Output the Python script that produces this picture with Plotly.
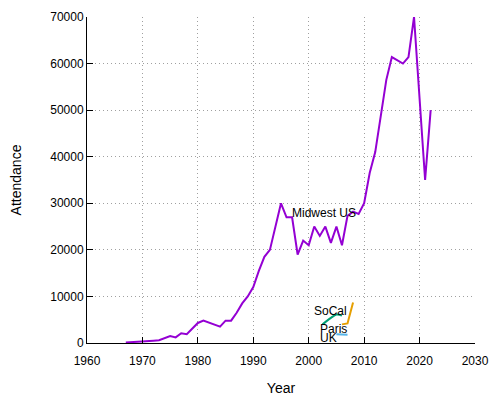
import plotly.graph_objects as go

# Midwest US attendance by year (2020 missing)
mw_years = [1967, 1968, 1969, 1970, 1971, 1972, 1973, 1974, 1975, 1976, 1977, 1978, 1979,
            1980, 1981, 1982, 1983, 1984, 1985, 1986, 1987, 1988, 1989, 1990, 1991, 1992,
            1993, 1994, 1995, 1996, 1997, 1998, 1999, 2000, 2001, 2002, 2003, 2004, 2005,
            2006, 2007, 2008, 2009, 2010, 2011, 2012, 2013, 2014, 2015, 2016, 2017, 2018,
            2019, 2021, 2022]
mw_vals = [100, 150, 200, 300, 400, 500, 600, 1000, 1500, 1200, 2100, 1900, 3000,
           4300, 4800, 4400, 4000, 3500, 4800, 4800, 6500, 8500, 10000, 12000, 15500, 18500,
           20000, 25000, 30000, 27000, 27000, 19000, 22000, 21000, 25000, 23000, 25000, 21500, 25000,
           21000, 27300, 28200, 27700, 30000, 36500, 41000, 48500, 56500, 61400, 60700, 60000, 61400,
           70000, 35000, 50000]

socal_years = [2002.5, 2004, 2005, 2006]
socal_vals = [4000, 5400, 6100, 5900]

paris_years = [2006, 2007, 2008]
paris_vals = [4000, 4200, 8700]

uk_years = [2005, 2006, 2007]
uk_vals = [1900, 1850, 1750]

labels = [("Midwest US", 1997.0, 28000), ("SoCal", 2001.0, 6870),
          ("Paris", 2002.0, 3000), ("UK", 2002.0, 1000)]

x_ticks = [1960, 1970, 1980, 1990, 2000, 2010, 2020, 2030]
y_ticks = [0, 10000, 20000, 30000, 40000, 50000, 60000, 70000]

fig = go.Figure()
fig.add_trace(go.Scatter(x=mw_years, y=mw_vals, mode="lines",
                         line=dict(color="#9400d3", width=2), showlegend=False))
fig.add_trace(go.Scatter(x=socal_years, y=socal_vals, mode="lines", line_shape="spline",
                         line=dict(color="#009e73", width=2), showlegend=False))
fig.add_trace(go.Scatter(x=uk_years, y=uk_vals, mode="lines",
                         line=dict(color="#56b4e9", width=2), showlegend=False))
fig.add_trace(go.Scatter(x=paris_years, y=paris_vals, mode="lines",
                         line=dict(color="#e69f00", width=2), showlegend=False))

for text, x, y in labels:
    fig.add_annotation(x=x, y=y, text=text, showarrow=False, xanchor="left",
                       yanchor="middle", xshift=-2, font=dict(size=12, color="black"))

font = dict(family="Liberation Sans, Arial, sans-serif", size=12, color="black")
grid = dict(showgrid=True, gridcolor="#a0a0a0", griddash="1px,3px", gridwidth=1,
            zeroline=False, ticks="inside", ticklen=6, tickcolor="black",
            showline=True, linecolor="black", linewidth=1, automargin=False)
# page body has an 8px margin, so the figure is sized/positioned to compensate
fig.update_layout(
    width=492, height=392,
    margin=dict(l=79, r=25, t=9, b=57),
    paper_bgcolor="white", plot_bgcolor="white",
    font=font,
    xaxis=dict(range=[1960, 2030], tickvals=x_ticks, ticktext=[str(v) for v in x_ticks],
               ticklabelstandoff=7,
               title=dict(text="Year", standoff=15), **grid),
    yaxis=dict(range=[0, 70000], tickvals=y_ticks, ticktext=[str(v) for v in y_ticks],
               title=dict(text="Attendance", standoff=27), **grid),
)
fig.write_html("out.html")
